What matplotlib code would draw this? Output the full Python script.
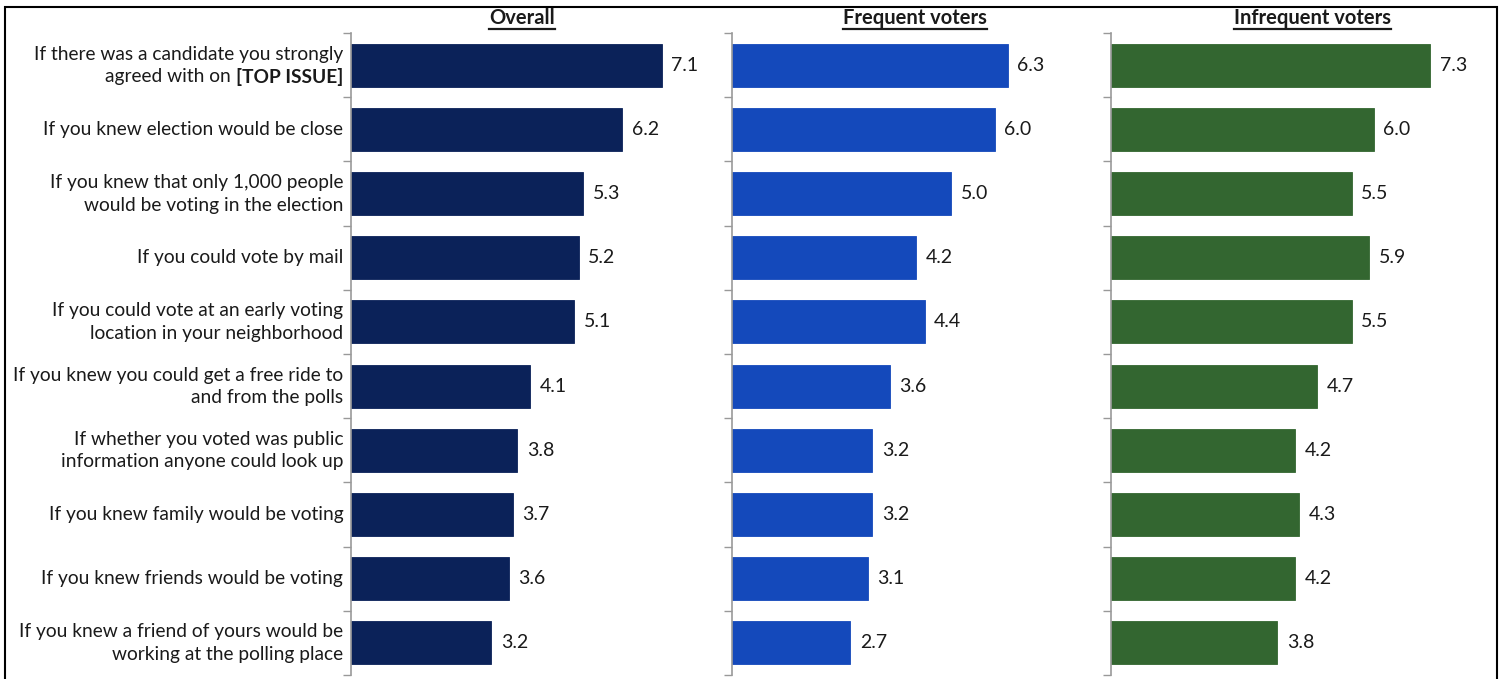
import numpy as np
import matplotlib
matplotlib.use("Agg")
import matplotlib.pyplot as plt
from matplotlib.patches import Rectangle
from matplotlib.lines import Line2D

# --- Data ---
labels = [
    ["If there was a candidate you strongly", "agreed with on [TOP ISSUE]"],
    ["If you knew election would be close"],
    ["If you knew that only 1,000 people", "would be voting in the election"],
    ["If you could vote by mail"],
    ["If you could vote at an early voting", "location in your neighborhood"],
    ["If you knew you could get a free ride to", "and from the polls"],
    ["If whether you voted was public", "information anyone could look up"],
    ["If you knew family would be voting"],
    ["If you knew friends would be voting"],
    ["If you knew a friend of yours would be", "working at the polling place"],
]
overall = [7.1, 6.2, 5.3, 5.2, 5.1, 4.1, 3.8, 3.7, 3.6, 3.2]
frequent = [6.3, 6.0, 5.0, 4.2, 4.4, 3.6, 3.2, 3.2, 3.1, 2.7]
infrequent = [7.3, 6.0, 5.5, 5.9, 5.5, 4.7, 4.2, 4.3, 4.2, 3.8]

panels = ["Overall", "Frequent voters", "Infrequent voters"]
colors = ["#0b2259", "#1449bb", "#336630"]
series = [overall, frequent, infrequent]

plt.rcParams['font.family'] = ['Lato', 'DejaVu Sans']

W, H = 1500, 679
fig = plt.figure(figsize=(15, 6.79), dpi=100)

# axes placement in pixels (left edge, title centre)
lefts = [351, 732, 1111]
title_x = [522, 915, 1312]
ax_w = 350
top_px, bot_px = 33, 675
lab_fs = 13.8

n = len(labels)
y = np.arange(n)

for i, (vals, col) in enumerate(zip(series, colors)):
    ax = fig.add_axes([lefts[i] / W, (H - bot_px) / H, ax_w / W, (bot_px - top_px) / H])
    ax.barh(y, vals, height=0.67, color=col, edgecolor=col, linewidth=0.6)
    ax.set_xlim(0, 8)
    ax.set_ylim(n - 0.5, -0.5)
    ax.set_xticks([])
    ax.set_yticks(np.arange(-0.5, n, 1.0))
    ax.set_yticklabels([])
    ax.tick_params(axis='y', length=6, color='#999999', width=1)
    for s in ['top', 'right', 'bottom']:
        ax.spines[s].set_visible(False)
    ax.spines['left'].set_color('#999999')
    ax.spines['left'].set_linewidth(1.2)

    for yi, v in zip(y, vals):
        ax.annotate(f"{v:.1f}", (v, yi), xytext=(7, 0), textcoords='offset points',
                    va='center', ha='left', fontsize=14, color='#1a1a1a')

    # category labels only on the first panel
    if i == 0:
        tr = ax.get_yaxis_transform()
        for yi, lines in enumerate(labels):
            if len(lines) == 1:
                ax.text(-0.022, yi, lines[0], transform=tr, ha='right', va='center',
                        fontsize=lab_fs, color='#1a1a1a')
            else:
                ax.text(-0.022, yi - 0.17, lines[0], transform=tr, ha='right', va='center',
                        fontsize=lab_fs, color='#1a1a1a')
                if yi == 0:
                    b = ax.text(-0.022, yi + 0.18, "[TOP ISSUE]", transform=tr, ha='right',
                                va='center', fontsize=lab_fs, fontweight='bold', color='#1a1a1a')
                    ax.annotate("agreed with on ", xy=(0, yi + 0.18),
                                xycoords=(b, tr), ha='right', va='center',
                                fontsize=lab_fs, color='#1a1a1a')
                else:
                    ax.text(-0.022, yi + 0.18, lines[1], transform=tr, ha='right', va='center',
                            fontsize=lab_fs, color='#1a1a1a')

# panel titles, bold and underlined
fig.canvas.draw()
renderer = fig.canvas.get_renderer()
for tx, name in zip(title_x, panels):
    t = fig.text(tx / W, (H - 18) / H, name, ha='center', va='center',
                 fontsize=14.5, fontweight='bold', color='#1a1a1a')
    bb = t.get_window_extent(renderer)
    yl = (bb.y0 - 1) / H
    fig.add_artist(Line2D([bb.x0 / W, bb.x1 / W], [yl, yl], color='#1a1a1a',
                          linewidth=1.6, transform=fig.transFigure))

# outer frame
fig.add_artist(Rectangle((4.5 / W, -0.05), (1497 - 4.5) / W, (H - 7) / H + 0.05,
                         transform=fig.transFigure, fill=False, edgecolor='black',
                         linewidth=1.5))

fig.savefig("out.png", dpi=100)
